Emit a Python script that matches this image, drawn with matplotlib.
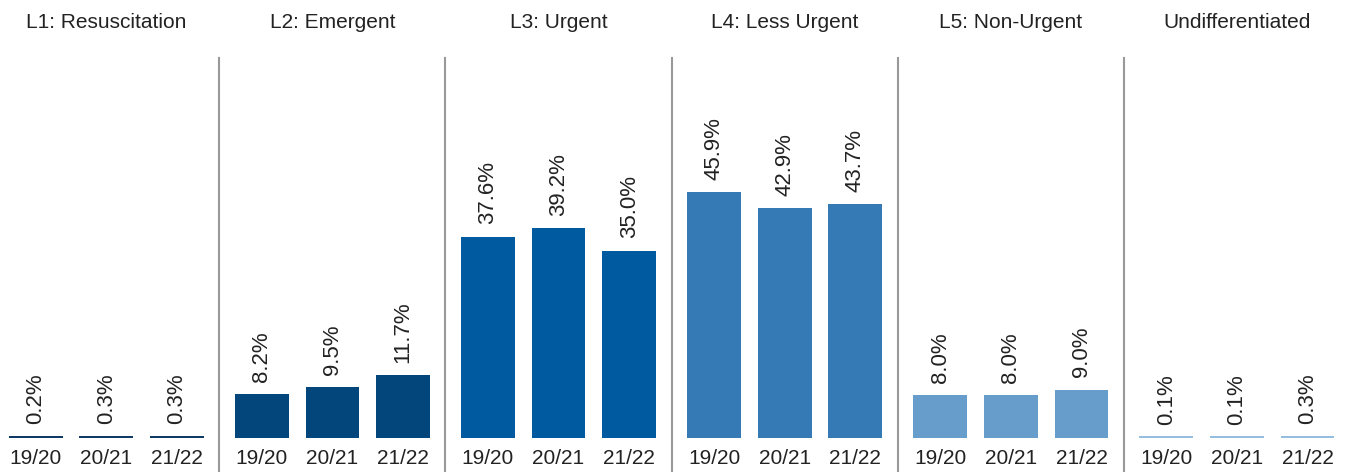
import matplotlib.pyplot as plt
from matplotlib.lines import Line2D

plt.rcParams["font.family"] = ["Liberation Sans", "DejaVu Sans"]

# triage levels and share of visits per year
levels = ["L1: Resuscitation", "L2: Emergent", "L3: Urgent",
          "L4: Less Urgent", "L5: Non-Urgent", "Undifferentiated"]
years = ["19/20", "20/21", "21/22"]
l1 = [0.2, 0.3, 0.3]
l2 = [8.2, 9.5, 11.7]
l3 = [37.6, 39.2, 35.0]
l4 = [45.9, 42.9, 43.7]
l5 = [8.0, 8.0, 9.0]
undiff = [0.1, 0.1, 0.3]
values = [l1, l2, l3, l4, l5, undiff]
colors = ["#0f3a66", "#03467c", "#005aa0", "#357ab5", "#669dca", "#94bde0"]

fig = plt.figure(figsize=(13.5, 4.72), dpi=100)
gs = fig.add_gridspec(1, 6, left=-0.005, right=1.0, bottom=0.072, top=0.877, wspace=0)

for k in range(6):
    ax = fig.add_subplot(gs[0, k])
    x = list(range(len(years)))
    bars = ax.bar(x, values[k], width=0.76, color=colors[k])
    # very small values still get a visible line
    ax.bar(x, [0.35] * 3, width=0.76, color=colors[k])
    for b, v in zip(bars, values[k]):
        ax.annotate(f"{v:.1f}%", (b.get_x() + b.get_width() / 2, b.get_height()),
                    xytext=(0, 9), textcoords="offset points", rotation=90,
                    ha="center", va="bottom", fontsize=16, color="#222222")
    ax.set_xlim(-0.6, 2.6)
    ax.set_ylim(0, 71)
    ax.set_xticks(x)
    ax.set_xticklabels(years, fontsize=15, color="#222222")
    ax.tick_params(axis="x", length=0, pad=8)
    ax.set_yticks([])
    for s in ax.spines.values():
        s.set_visible(False)
    ax.set_title(levels[k], fontsize=15, color="#222222", pad=22)

# grey separators between panels
for k in range(1, 6):
    xf = -0.005 + k * 1.005 / 6
    fig.add_artist(Line2D([xf, xf], [0.0, 0.877], transform=fig.transFigure,
                          color="#999999", lw=1.5))

fig.savefig("out.png", dpi=100)
